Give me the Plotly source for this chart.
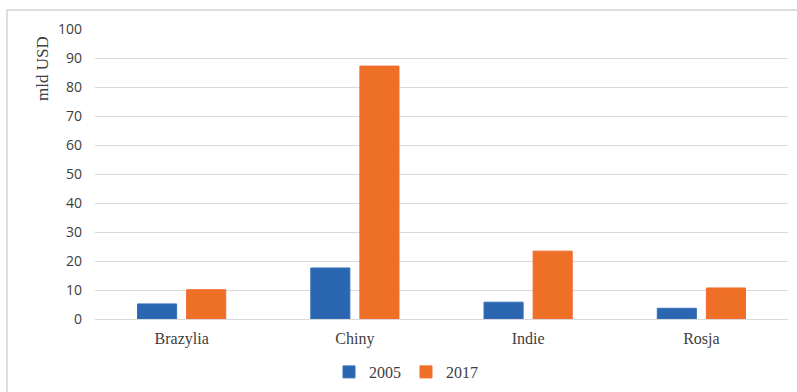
import plotly.graph_objects as go

categories = ["Brazylia", "Chiny", "Indie", "Rosja"]
values_2005 = [5.2, 17.6, 5.8, 3.7]
values_2017 = [10.1, 87.2, 23.4, 10.7]
y_ticks = [0, 10, 20, 30, 40, 50, 60, 70, 80, 90, 100]

blue = "#2b66b1"
orange = "#ee7027"
text_col = "#404040"
grid_col = "#d9d9d9"

fig = go.Figure()
fig.add_trace(go.Bar(name="2005", x=categories, y=values_2005,
                     marker=dict(color=blue, line=dict(color="#3a70bb", width=1))))
fig.add_trace(go.Bar(name="2017", x=categories, y=values_2017,
                     marker=dict(color=orange, line=dict(color="#f26a30", width=1))))

W, H = 797, 392
L, R, T, B = 95, 9, 29, 73
pw = W - L - R
ph = H - T - B

def px_x(x):
    return (x - L) / pw

def px_y(y):
    return (H - B - y) / ph

fig.update_layout(
    width=W, height=H,
    margin=dict(l=L, r=R, t=T, b=B, autoexpand=False),
    paper_bgcolor="white", plot_bgcolor="white",
    barmode="group", bargap=0.433, bargroupgap=0.204,
    showlegend=True,
    legend=dict(orientation="h", x=px_x(406), y=px_y(372), xanchor="center", yanchor="middle",
                font=dict(family="Liberation Serif", size=16, color=text_col),
                itemwidth=30, traceorder="normal"),
    xaxis=dict(showgrid=False, showline=False, ticks="", ticklabelstandoff=8,
               tickfont=dict(family="Liberation Serif", size=16, color=text_col)),
    yaxis=dict(range=[0, 100], tickvals=y_ticks, showgrid=True, gridcolor=grid_col, gridwidth=1,
               zeroline=True, zerolinecolor=grid_col, zerolinewidth=1, showline=False, ticks="",
               ticklabelstandoff=12,
               tickfont=dict(family="Open Sans", size=14, color=text_col)),
    annotations=[dict(text="mld USD", x=px_x(42), y=px_y(69), xref="paper", yref="paper",
                      textangle=-90, showarrow=False, xanchor="center", yanchor="middle",
                      font=dict(family="Liberation Serif", size=17, color=text_col))],
    shapes=[dict(type="rect", xref="paper", yref="paper",
                 x0=px_x(7), x1=px_x(805), y0=px_y(400), y1=px_y(10),
                 line=dict(color="#d4d4d4", width=1.5), fillcolor="rgba(0,0,0,0)", layer="below")],
)

fig.write_html("out.html")
